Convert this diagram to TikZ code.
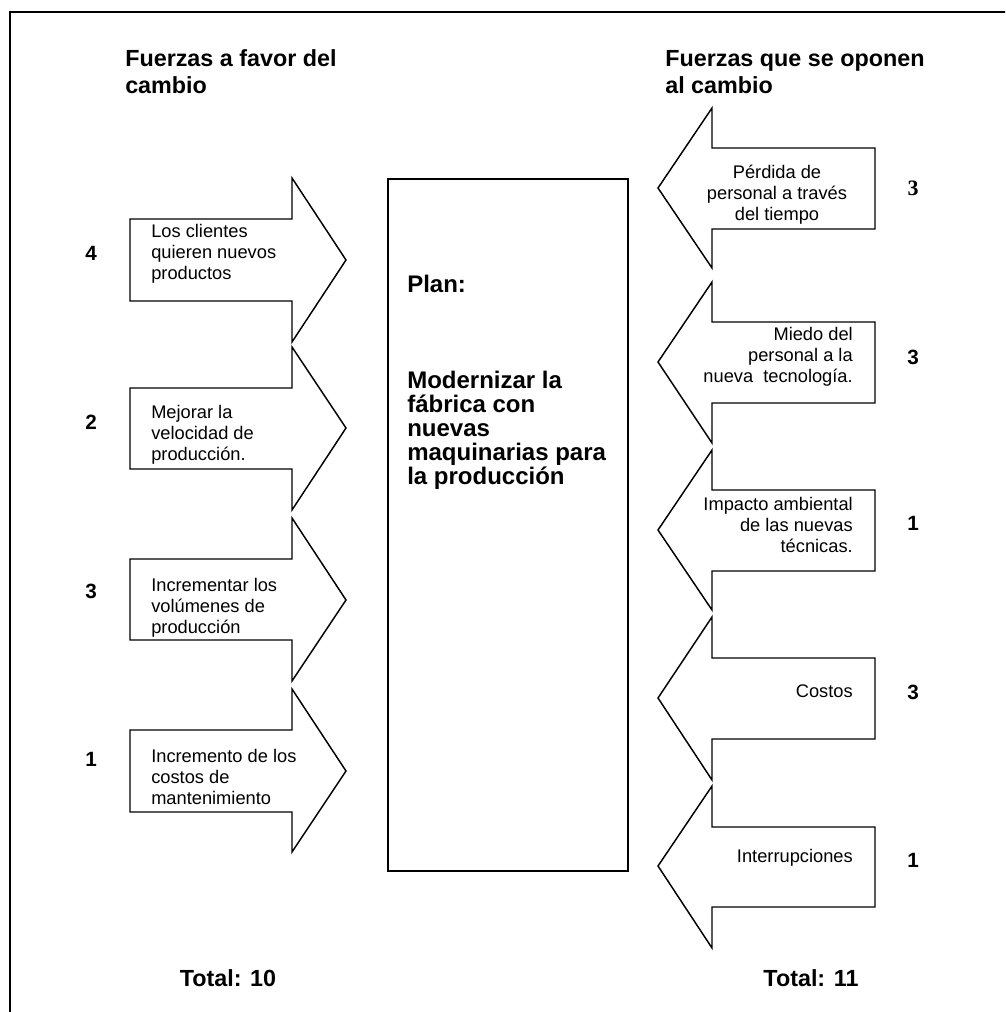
\documentclass[tikz,border=0pt]{standalone}
\usepackage{fontspec}
\setmainfont{Liberation Sans}
\newfontfamily\timesfont{Liberation Serif}
\usetikzlibrary{positioning}

\begin{document}
\begin{tikzpicture}[x=0.75pt,y=-0.75pt,line join=miter,
		forceline/.style={draw,line width=1.1pt},
		forcetext/.style={inner sep=0pt,font=\fontsize{13.7}{15.75}\selectfont},
		weight/.style={inner sep=0pt,font=\fontsize{15.5}{17}\selectfont\bfseries},
		heading/.style={inner sep=0pt,align=left,font=\fontsize{17.5}{20.25}\selectfont\bfseries}]

		\clip (0,0) rectangle (1005,1012);
		\useasboundingbox (0,0) rectangle (1005,1012);

		% outer frame
		\draw[line width=1.5pt] (10,1030) -- (10,12) -- (1030,12);

		% headings
		\node[heading,anchor=west] (favorTitle) at (125,72) {Fuerzas a favor del\\cambio};
		\node[heading,anchor=west] (contraTitle) at (665,72) {Fuerzas que se oponen\\al cambio};

		% plan
		\node[draw,line width=1.5pt,minimum width=180pt,minimum height=519pt,anchor=north west,inner sep=0pt] (plan) at (387,178) {};
		\node[inner sep=0pt,anchor=base west,font=\fontsize{18}{18}\selectfont\bfseries] (planTitle) at (407,292) {Plan:};
		\node[inner sep=0pt,anchor=west,align=left,font=\fontsize{18}{18}\selectfont\bfseries] (planText) at (407,430)
			{Modernizar la\\fábrica con\\nuevas\\maquinarias para\\la producción};

		% forces in favour
		\draw[forceline] (130,219) -- (292,219) -- (292,178) -- (346,260) -- (292,342) -- (292,301) -- (130,301) -- cycle;
		\draw[forceline] (130,388) -- (292,388) -- (292,347) -- (346,428) -- (292,510) -- (292,469) -- (130,469) -- cycle;
		\draw[forceline] (130,559) -- (292,559) -- (292,518) -- (346,600) -- (292,681) -- (292,640) -- (130,640) -- cycle;
		\draw[forceline] (130,730) -- (292,730) -- (292,689) -- (346,771) -- (292,852) -- (292,812) -- (130,812) -- cycle;

		\node[forcetext,anchor=west,align=left] (favor1) at (151,254) {Los clientes\\quieren nuevos\\productos};
		\node[forcetext,anchor=west,align=left] (favor2) at (151,435) {Mejorar la\\velocidad de\\producción.};
		\node[forcetext,anchor=west,align=left] (favor3) at (151,608) {Incrementar los\\volúmenes de\\producción};
		\node[forcetext,anchor=west,align=left] (favor4) at (151,777) {Incremento de los\\costos de\\mantenimiento};

		\node[weight] (favor1w) at (91,253) {4};
		\node[weight] (favor2w) at (91,422) {2};
		\node[weight] (favor3w) at (91,591) {3};
		\node[weight] (favor4w) at (91,759) {1};

		% forces against
		\draw[forceline] (875,148) -- (712,148) -- (712,108) -- (658,188) -- (712,268) -- (712,229) -- (875,229) -- cycle;
		\draw[forceline] (875,322) -- (712,322) -- (712,282) -- (658,362) -- (712,443) -- (712,403) -- (875,403) -- cycle;
		\draw[forceline] (875,490) -- (712,490) -- (712,450) -- (658,530) -- (712,610) -- (712,571) -- (875,571) -- cycle;
		\draw[forceline] (875,658) -- (712,658) -- (712,617) -- (658,698) -- (712,780) -- (712,739) -- (875,739) -- cycle;
		\draw[forceline] (875,827) -- (712,827) -- (712,786) -- (658,866) -- (712,948) -- (712,907) -- (875,907) -- cycle;

		\node[forcetext,align=center] (contra1) at (777,195) {Pérdida de\\personal a través\\del tiempo};
		\node[forcetext,anchor=east,align=right] (contra2) at (853,357) {Miedo del\\personal a la\\nueva\ \ tecnología.};
		\node[forcetext,anchor=east,align=right] (contra3) at (853,525) {Impacto ambiental\\de las nuevas\\técnicas.};
		\node[forcetext,anchor=east] (contra4) at (853,691) {Costos};
		\node[forcetext,anchor=east] (contra5) at (853,858) {Interrupciones};

		\node[weight,font=\fontsize{16.5}{17}\timesfont\bfseries] (contra1w) at (913,188) {3};
		\node[weight] (contra2w) at (913,357) {3};
		\node[weight] (contra3w) at (913,523) {1};
		\node[weight] (contra4w) at (913,692) {3};
		\node[weight] (contra5w) at (913,860) {1};

		% totals
		\node[weight,font=\fontsize{17.5}{19}\selectfont\bfseries] (favorTotal) at (228,978) {Total: 10};
		\node[weight,font=\fontsize{17.5}{19}\selectfont\bfseries] (contraTotal) at (811,978) {Total: 11};
	\end{tikzpicture}
\end{document}
